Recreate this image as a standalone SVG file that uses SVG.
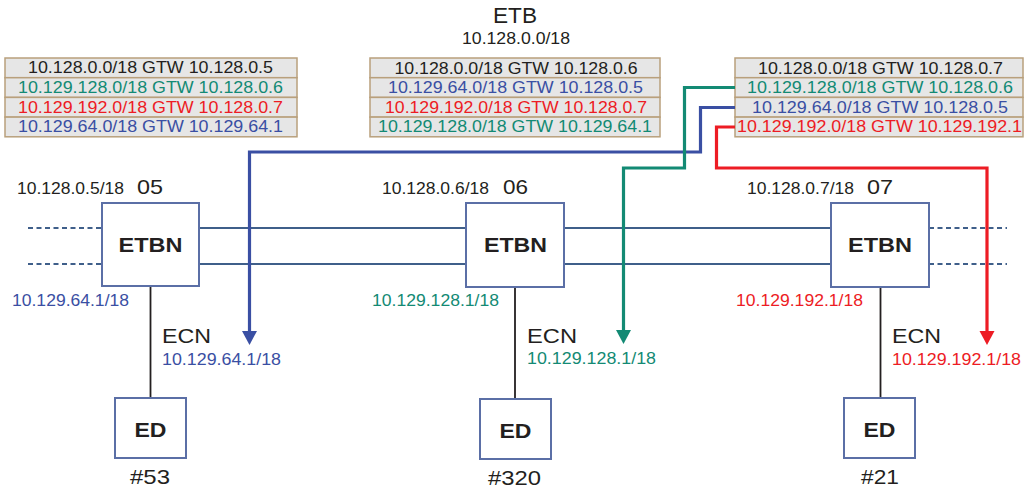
<svg xmlns="http://www.w3.org/2000/svg" width="1024" height="488" viewBox="0 0 1024 488">
  <style>
    text { font-family: "Liberation Sans", Arial, sans-serif; }
    .row { fill: #e6e6e6; stroke: #b9a07c; stroke-width: 1.5; }
    .rt { font-size: 16px; text-anchor: middle; }
    .k { fill: #231f20; }
    .tl { fill: #138a74; }
    .rd { fill: #ed1c24; }
    .bl { fill: #3a4fa3; }
    .box { fill: #ffffff; stroke: #5b6fa6; stroke-width: 2; }
    .bus { stroke: #3f5f8a; stroke-width: 1.8; fill: none; }
    .dash { stroke: #3f5f8a; stroke-width: 1.8; fill: none; stroke-dasharray: 5 3.5; }
    .ecn { stroke: #231f20; stroke-width: 1.8; fill: none; }
    .lbl { font-size: 16px; }
    .big { font-size: 21px; }
    .bold { font-size: 21px; font-weight: bold; text-anchor: middle; fill: #231f20; }
    .route { fill: none; stroke-width: 3.2; stroke-linejoin: miter; }
  </style>

  <!-- backbone title -->
  <g id="etb-title">
    <text x="515" y="23" class="k" font-size="22" text-anchor="middle" textLength="44" lengthAdjust="spacingAndGlyphs">ETB</text>
    <text x="516" y="44" class="k" font-size="17" text-anchor="middle" textLength="108" lengthAdjust="spacingAndGlyphs">10.128.0.0/18</text>
  </g>

  <!-- routing table of node 05 -->
  <g id="table-05">
    <rect class="row" x="5" y="58" width="292" height="19.7"/>
    <rect class="row" x="5" y="77.7" width="292" height="19.7"/>
    <rect class="row" x="5" y="97.4" width="292" height="19.7"/>
    <rect class="row" x="5" y="117.1" width="292" height="19.7"/>
    <text class="rt k" x="150.5" y="73" textLength="245" lengthAdjust="spacingAndGlyphs">10.128.0.0/18 GTW 10.128.0.5</text>
    <text class="rt tl" x="150.5" y="93" textLength="265" lengthAdjust="spacingAndGlyphs">10.129.128.0/18 GTW 10.128.0.6</text>
    <text class="rt rd" x="150.5" y="112.7" textLength="265" lengthAdjust="spacingAndGlyphs">10.129.192.0/18 GTW 10.128.0.7</text>
    <text class="rt bl" x="150.5" y="132.3" textLength="265" lengthAdjust="spacingAndGlyphs">10.129.64.0/18 GTW 10.129.64.1</text>
  </g>

  <!-- routing table of node 06 -->
  <g id="table-06">
    <rect class="row" x="370" y="58" width="290" height="19.7"/>
    <rect class="row" x="370" y="77.7" width="290" height="19.7"/>
    <rect class="row" x="370" y="97.4" width="290" height="19.7"/>
    <rect class="row" x="370" y="117.1" width="290" height="19.7"/>
    <text class="rt k" x="516" y="73.5" textLength="243" lengthAdjust="spacingAndGlyphs">10.128.0.0/18 GTW 10.128.0.6</text>
    <text class="rt bl" x="515.5" y="93" textLength="255" lengthAdjust="spacingAndGlyphs">10.129.64.0/18 GTW 10.128.0.5</text>
    <text class="rt rd" x="516" y="112.7" textLength="262" lengthAdjust="spacingAndGlyphs">10.129.192.0/18 GTW 10.128.0.7</text>
    <text class="rt tl" x="515" y="132.3" textLength="274" lengthAdjust="spacingAndGlyphs">10.129.128.0/18 GTW 10.129.64.1</text>
  </g>

  <!-- routing table of node 07 -->
  <g id="table-07">
    <rect class="row" x="735" y="58" width="288" height="19.7"/>
    <rect class="row" x="735" y="77.7" width="288" height="19.7"/>
    <rect class="row" x="735" y="97.4" width="288" height="19.7"/>
    <rect class="row" x="735" y="117.1" width="288" height="19.7"/>
    <text class="rt k" x="880.5" y="73.5" textLength="245" lengthAdjust="spacingAndGlyphs">10.128.0.0/18 GTW 10.128.0.7</text>
    <text class="rt tl" x="880" y="93" textLength="266" lengthAdjust="spacingAndGlyphs">10.129.128.0/18 GTW 10.128.0.6</text>
    <text class="rt bl" x="880" y="112.7" textLength="256" lengthAdjust="spacingAndGlyphs">10.129.64.0/18 GTW 10.128.0.5</text>
    <text class="rt rd" x="879.5" y="132.3" textLength="285" lengthAdjust="spacingAndGlyphs">10.129.192.0/18 GTW 10.129.192.1</text>
  </g>

  <!-- train backbone lines and consist network drops -->
  <g id="connectors">
    <line class="dash" x1="28" y1="228" x2="102" y2="228"/>
    <line class="dash" x1="28" y1="264" x2="102" y2="264"/>
    <line class="bus" x1="199" y1="228" x2="466" y2="228"/>
    <line class="bus" x1="199" y1="264" x2="466" y2="264"/>
    <line class="bus" x1="564" y1="228" x2="831" y2="228"/>
    <line class="bus" x1="564" y1="264" x2="831" y2="264"/>
    <line class="dash" x1="929" y1="228" x2="1007" y2="228"/>
    <line class="dash" x1="929" y1="264" x2="1007" y2="264"/>
    <line class="ecn" x1="150.5" y1="287" x2="150.5" y2="398"/>
    <line class="ecn" x1="515" y1="287" x2="515" y2="399"/>
    <line class="ecn" x1="880.5" y1="287" x2="880.5" y2="398"/>
  </g>

  <!-- ETBN nodes -->
  <g id="etbn-05">
    <rect class="box" x="102" y="203" width="97" height="83"/>
    <text class="bold" x="150.5" y="252" textLength="64" lengthAdjust="spacingAndGlyphs">ETBN</text>
    <text class="k lbl" x="17" y="194" textLength="107" lengthAdjust="spacingAndGlyphs">10.128.0.5/18</text>
    <text class="k big" x="137" y="194" textLength="26" lengthAdjust="spacingAndGlyphs">05</text>
    <text class="bl lbl" x="12" y="306" textLength="117" lengthAdjust="spacingAndGlyphs">10.129.64.1/18</text>
  </g>
  <g id="etbn-06">
    <rect class="box" x="466" y="203" width="98" height="84"/>
    <text class="bold" x="515.5" y="252" textLength="63" lengthAdjust="spacingAndGlyphs">ETBN</text>
    <text class="k lbl" x="382" y="194" textLength="107" lengthAdjust="spacingAndGlyphs">10.128.0.6/18</text>
    <text class="k big" x="503" y="194" textLength="25" lengthAdjust="spacingAndGlyphs">06</text>
    <text class="tl lbl" x="372" y="306" textLength="127" lengthAdjust="spacingAndGlyphs">10.129.128.1/18</text>
  </g>
  <g id="etbn-07">
    <rect class="box" x="831" y="203" width="98" height="84"/>
    <text class="bold" x="880" y="252" textLength="64" lengthAdjust="spacingAndGlyphs">ETBN</text>
    <text class="k lbl" x="747" y="194" textLength="107" lengthAdjust="spacingAndGlyphs">10.128.0.7/18</text>
    <text class="k big" x="867" y="194" textLength="26" lengthAdjust="spacingAndGlyphs">07</text>
    <text class="rd lbl" x="736" y="306" textLength="127" lengthAdjust="spacingAndGlyphs">10.129.192.1/18</text>
  </g>

  <!-- end devices -->
  <g id="ed-53">
    <text class="k big" x="162" y="343" textLength="49" lengthAdjust="spacingAndGlyphs">ECN</text>
    <text class="bl lbl" x="162" y="365" textLength="119" lengthAdjust="spacingAndGlyphs">10.129.64.1/18</text>
    <rect class="box" x="115" y="398" width="71" height="60"/>
    <text class="bold" x="150.5" y="437" textLength="32" lengthAdjust="spacingAndGlyphs">ED</text>
    <text class="k big" x="150" y="484" text-anchor="middle" textLength="40" lengthAdjust="spacingAndGlyphs">#53</text>
  </g>
  <g id="ed-320">
    <text class="k big" x="527" y="343" textLength="50" lengthAdjust="spacingAndGlyphs">ECN</text>
    <text class="tl lbl" x="527" y="364" textLength="129" lengthAdjust="spacingAndGlyphs">10.129.128.1/18</text>
    <rect class="box" x="480" y="399" width="71" height="60"/>
    <text class="bold" x="515.5" y="438" textLength="32" lengthAdjust="spacingAndGlyphs">ED</text>
    <text class="k big" x="514.5" y="485" text-anchor="middle" textLength="53" lengthAdjust="spacingAndGlyphs">#320</text>
  </g>
  <g id="ed-21">
    <text class="k big" x="892" y="343" textLength="49" lengthAdjust="spacingAndGlyphs">ECN</text>
    <text class="rd lbl" x="892" y="365" textLength="129" lengthAdjust="spacingAndGlyphs">10.129.192.1/18</text>
    <rect class="box" x="844" y="398" width="71" height="60"/>
    <text class="bold" x="879.5" y="437" textLength="32" lengthAdjust="spacingAndGlyphs">ED</text>
    <text class="k big" x="880" y="484" text-anchor="middle" textLength="38" lengthAdjust="spacingAndGlyphs">#21</text>
  </g>

  <!-- routes from the table of node 07 down to each consist network -->
  <g id="routes">
    <path class="route" stroke="#3a4fa3" d="M735,107.5 H700.5 V152 H249.5 V333"/>
    <polygon fill="#3a4fa3" points="242,331 257,331 249.5,345"/>
    <path class="route" stroke="#138a74" d="M735,87.5 H684.5 V168 H623.5 V332"/>
    <polygon fill="#138a74" points="616,330 631,330 623.5,344"/>
    <path class="route" stroke="#ed1c24" d="M735,127 H716.5 V168 H987 V333"/>
    <polygon fill="#ed1c24" points="979.5,331 994.5,331 987,345"/>
  </g>
</svg>
